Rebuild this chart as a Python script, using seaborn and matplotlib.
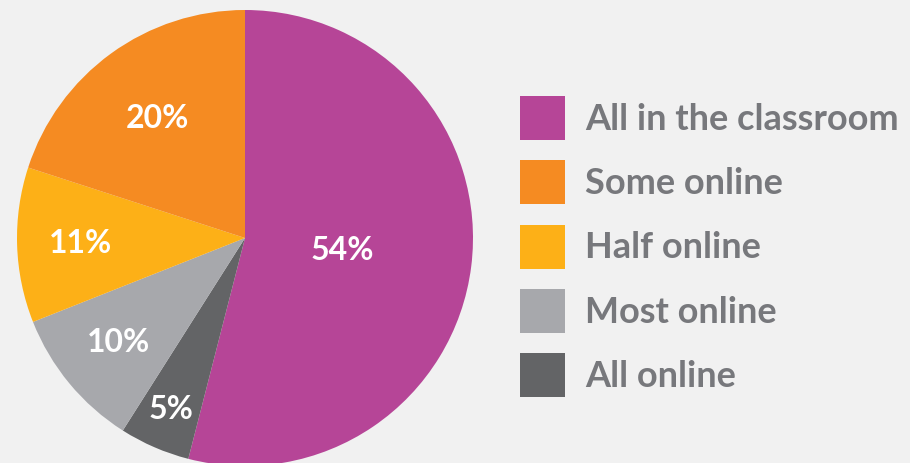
import numpy as np
import seaborn as sns
import matplotlib.pyplot as plt

# shares of class time, clockwise from the top
categories = ['All in the classroom', 'Some online', 'Half online', 'Most online', 'All online']
shares = [54, 20, 11, 10, 5]
pie_order = [0, 4, 3, 2, 1]   # order of wedges clockwise from 12 o'clock
colors = ['#B64597', '#F58B22', '#FDB017', '#A7A8AC', '#636466']
label_dist = {0: 0.43, 1: 0.65, 2: 0.72, 3: 0.72, 4: 0.82}

sns.set_theme(style='white', rc={'figure.facecolor': '#F1F1F1',
                                 'axes.facecolor': '#F1F1F1'})
plt.rcParams['font.family'] = ['Lato', 'DejaVu Sans']

fig = plt.figure(figsize=(9.10, 4.63), dpi=100)
ax = fig.add_axes([17 / 910, -3 / 463, 456 / 910, 456 / 463])

vals = [shares[i] for i in pie_order]
cols = [colors[i] for i in pie_order]
wedges, _ = ax.pie(vals, colors=cols, startangle=90, counterclock=False,
                   radius=1, wedgeprops=dict(linewidth=0))
ax.set_xlim(-1, 1)
ax.set_ylim(-1, 1)
ax.set_aspect('equal')
ax.axis('off')

# percentage labels
for w, idx in zip(wedges, pie_order):
    mid = np.deg2rad((w.theta1 + w.theta2) / 2)
    d = label_dist[idx]
    ax.text(d * np.cos(mid), d * np.sin(mid), f'{shares[idx]}%',
            ha='center', va='center', color='white', fontsize=23,
            fontweight='bold')

# legend in original category order
handles = [wedges[pie_order.index(i)] for i in range(len(categories))]
fig.legend(handles, categories, loc='upper left',
           bbox_to_anchor=(520 / 910, 1 - 96 / 463), frameon=False,
           handlelength=1.25, handleheight=1.5,
           labelspacing=0.56, handletextpad=0.55, borderpad=0,
           borderaxespad=0, labelcolor='#77787C',
           prop={'weight': 'bold', 'size': 26})

fig.savefig('out.png', dpi=100, facecolor=fig.get_facecolor())
